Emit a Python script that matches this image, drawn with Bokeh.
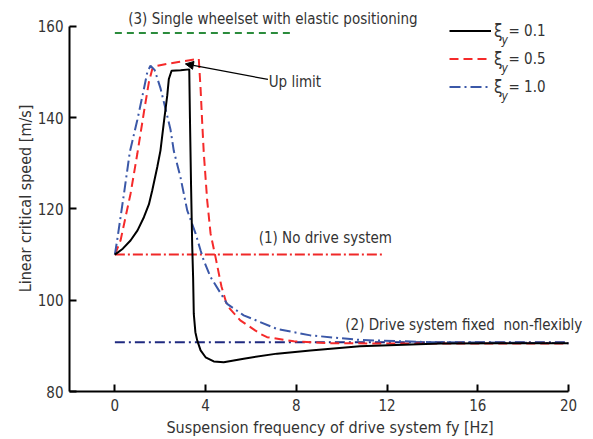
from bokeh.plotting import figure
from bokeh.models import Label, Legend, LegendItem, Arrow, NormalHead, FixedTicker, Range1d
from bokeh.embed import file_html
from bokeh.resources import INLINE

# ---------------- data ----------------
xi01_f = [0, 0.35, 0.69, 1.0, 1.28, 1.5, 1.65, 1.87, 2.01, 2.16, 2.31, 2.38, 2.5, 2.9, 3.28,
          3.31, 3.36, 3.41, 3.45, 3.48, 3.55, 3.63, 3.78, 4.0, 4.36, 4.8, 5.68, 7.15, 8.62,
          10.8, 14.35, 17, 20]
xi01_v = [110, 111.3, 113.1, 115.3, 118.2, 121, 124.1, 129.2, 132.8, 139, 144.9, 148.5, 150.3,
          150.4, 150.6, 140, 125, 112, 105, 97, 93, 91.2, 89, 87.5, 86.6, 86.4, 87.2, 88.3, 89.0,
          89.9, 90.5, 90.6, 90.6]

xi05_f = [0, 0.25, 0.69, 0.99, 1.28, 1.5, 1.65, 1.8, 2.3, 2.8, 3.3, 3.7, 3.78, 3.85, 3.92,
          4.07, 4.22, 4.44, 4.7, 4.95, 5.53, 5.83, 6.42, 6.71, 7.89, 9.36, 12, 16, 20]
xi05_v = [110, 113.1, 123.3, 132.1, 141.2, 147.8, 150.7, 151.3, 151.8, 152.2, 152.6, 152.9, 146.3,
          139, 132.3, 121.9, 114.6, 109.4, 103, 98.8, 95.6, 94.6, 92.6, 91.9, 91.0, 90.6, 90.5,
          90.5, 90.5]

xi10_f = [0, 0.1, 0.4, 0.66, 0.99, 1.28, 1.43, 1.57, 1.75, 2.01, 2.23, 2.45, 2.6, 2.89, 3.19,
          3.56, 3.78, 3.92, 4.22, 4.95, 5.68, 7.15, 8.62, 10.8, 14, 20]
xi10_v = [110, 113.1, 123.3, 132.5, 139.5, 146.3, 150, 151.4, 150.5, 146.5, 142, 137.5, 132.7,
          127, 119.7, 114.6, 110.9, 108.7, 105.1, 99.2, 96.7, 93.7, 92.3, 91.3, 90.8, 90.6]

no_drive_f = [0, 11.8]
no_drive_v = [110, 110]
fixed_f = [0, 20]
fixed_v = [90.8, 90.8]
single_f = [0, 7.8]
single_v = [158.6, 158.6]

x_ticks = [0, 4, 8, 12, 16, 20]
y_ticks = [80, 100, 120, 140, 160]
xi_values = ["0.1", "0.5", "1.0"]

FONT = "Liberation Sans Narrow, Noto Sans Condensed, DejaVu Sans Condensed, Roboto Condensed, Roboto, sans-serif"
TXT = "#333333"

p = figure(width=593, height=439, x_range=Range1d(-2, 20.97), y_range=Range1d(80, 164.6),
           output_backend="svg", toolbar_location=None,
           min_border_left=69, min_border_right=3, min_border_top=5, min_border_bottom=48)
p.xgrid.visible = False
p.ygrid.visible = False
p.outline_line_color = None
p.background_fill_color = "white"

p.xaxis.ticker = FixedTicker(ticks=x_ticks)
p.yaxis.ticker = FixedTicker(ticks=y_ticks)
p.xaxis.bounds = (-2, 20)
p.yaxis.bounds = (80, 160)
for ax in (p.xaxis[0], p.yaxis[0]):
    ax.axis_line_width = 2
    ax.axis_line_color = "black"
    ax.major_tick_line_width = 2
    ax.major_tick_line_color = "black"
    ax.major_tick_in = 7
    ax.major_tick_out = 0
    ax.minor_tick_line_color = None
    ax.major_label_text_font = FONT
    ax.major_label_text_font_size = "15px"
    ax.major_label_text_color = TXT
    ax.axis_label_text_font = FONT
    ax.axis_label_text_font_style = "normal"
    ax.axis_label_text_font_size = "16px"
    ax.axis_label_text_color = TXT
p.xaxis.major_label_standoff = 7
p.xaxis.axis_label_standoff = 4
p.yaxis.major_label_standoff = 6
p.yaxis.axis_label_standoff = 0
p.xaxis.axis_label = "Suspension frequency of drive system fy [Hz]"
p.yaxis.axis_label = "Linear critical speed [m/s]"

# reference lines
p.line(single_f, single_v, line_color="#2b8c3c", line_width=2, line_dash="7 5")
p.line(no_drive_f, no_drive_v, line_color="#f02828", line_width=2, line_dash="10 3 2 3")
p.line(fixed_f, fixed_v, line_color="#1f2a80", line_width=2, line_dash="10 4 2 4")

# curves
r05 = p.line(xi05_f, xi05_v, line_color="#f52a2a", line_width=2, line_dash="9 5")
r10 = p.line(xi10_f, xi10_v, line_color="#3b58a8", line_width=2, line_dash="11 4 2 4")
r01 = p.line(xi01_f, xi01_v, line_color="black", line_width=2)

# text annotations
def add_label(x, y, text, size="15px"):
    p.add_layout(Label(x=x, y=y, text=text, text_font=FONT, text_font_size=size,
                       text_color=TXT, text_baseline="middle", text_align="left"))

add_label(0.59, 161.75, "(3) Single wheelset with elastic positioning")
add_label(6.34, 113.7, "(1) No drive system")
add_label(10.16, 94.6, "(2) Drive system fixed\u00a0 non-flexibly")
add_label(6.78, 147.9, "Up limit")

p.add_layout(Arrow(end=NormalHead(size=8, fill_color="black", line_color="black", line_width=1),
                   x_start=6.75, y_start=148.4, x_end=3.11, y_end=151.8,
                   line_color="black", line_width=1.2))

# legend
items = [LegendItem(label="ξ", renderers=[r]) for r in (r01, r05, r10)]
legend = Legend(items=items, location=(380, 293), padding=0, margin=0, spacing=5,
                glyph_width=42, glyph_height=23, label_height=23, label_standoff=3,
                label_text_font=FONT, label_text_font_size="17px", label_text_color=TXT,
                background_fill_alpha=0, border_line_alpha=0)
p.add_layout(legend)

for i, val in enumerate(xi_values):
    cy = 360.5 - 28 * i
    p.add_layout(Label(x=432, y=cy - 9, x_units="screen", y_units="screen", text="y",
                       text_font=FONT, text_font_size="12px", text_font_style="italic",
                       text_color=TXT, text_baseline="alphabetic", text_align="left"))
    p.add_layout(Label(x=439, y=cy, x_units="screen", y_units="screen", text="= " + val,
                       text_font=FONT, text_font_size="15px",
                       text_color=TXT, text_baseline="middle", text_align="left"))

open("out.html", "w").write(file_html(p, INLINE))
